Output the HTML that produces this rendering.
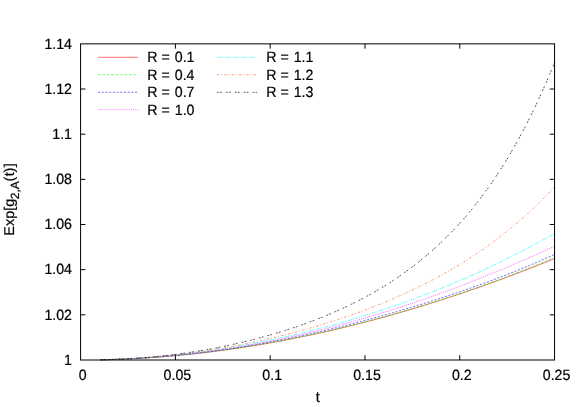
<!DOCTYPE html>
<html><head><meta charset="utf-8"><title>plot</title>
<style>
html,body{margin:0;padding:0;background:#fff;}
body{width:581px;height:407px;overflow:hidden;}
svg{display:block;will-change:transform;}
text{font-family:"Liberation Sans",sans-serif;font-size:14.2px;fill:#000;stroke:#000;stroke-width:0.2px;text-rendering:geometricPrecision;}
</style></head><body>
<svg width="581" height="407" viewBox="0 0 581 407">
<rect width="581" height="407" fill="#fff"/>
<g fill="none" stroke-width="0.6">
<path d="M100.51,359.80 L102.79,359.76 L105.07,359.71 L107.35,359.65 L109.63,359.59 L111.91,359.52 L114.20,359.45 L116.48,359.37 L118.76,359.29 L121.04,359.20 L123.32,359.11 L125.60,359.01 L127.89,358.91 L130.17,358.80 L132.45,358.68 L134.73,358.57 L137.01,358.44 L139.29,358.32 L141.58,358.18 L143.86,358.05 L146.14,357.90 L148.42,357.76 L150.70,357.60 L152.98,357.45 L155.26,357.28 L157.55,357.12 L159.83,356.95 L162.11,356.77 L164.39,356.59 L166.67,356.40 L168.95,356.21 L171.24,356.01 L173.52,355.81 L175.80,355.60 L178.08,355.39 L180.36,355.17 L182.64,354.95 L184.93,354.73 L187.21,354.50 L189.49,354.26 L191.77,354.02 L194.05,353.78 L196.33,353.53 L198.62,353.27 L200.90,353.01 L203.18,352.75 L205.46,352.48 L207.74,352.20 L210.02,351.92 L212.31,351.64 L214.59,351.35 L216.87,351.06 L219.15,350.76 L221.43,350.46 L223.71,350.15 L226.00,349.84 L228.28,349.52 L230.56,349.20 L232.84,348.87 L235.12,348.54 L237.40,348.21 L239.69,347.87 L241.97,347.52 L244.25,347.17 L246.53,346.82 L248.81,346.46 L251.09,346.09 L253.38,345.73 L255.66,345.35 L257.94,344.97 L260.22,344.59 L262.50,344.21 L264.78,343.81 L267.06,343.42 L269.35,343.02 L271.63,342.61 L273.91,342.20 L276.19,341.79 L278.47,341.37 L280.75,340.94 L283.04,340.51 L285.32,340.08 L287.60,339.64 L289.88,339.20 L292.16,338.75 L294.44,338.30 L296.73,337.85 L299.01,337.38 L301.29,336.92 L303.57,336.45 L305.85,335.98 L308.13,335.50 L310.42,335.01 L312.70,334.53 L314.98,334.03 L317.26,333.54 L319.54,333.04 L321.82,332.53 L324.11,332.02 L326.39,331.51 L328.67,330.99 L330.95,330.46 L333.23,329.94 L335.51,329.40 L337.80,328.87 L340.08,328.33 L342.36,327.78 L344.64,327.23 L346.92,326.68 L349.20,326.12 L351.49,325.55 L353.77,324.99 L356.05,324.41 L358.33,323.84 L360.61,323.26 L362.89,322.67 L365.17,322.08 L367.46,321.49 L369.74,320.89 L372.02,320.29 L374.30,319.68 L376.58,319.07 L378.86,318.46 L381.15,317.84 L383.43,317.21 L385.71,316.58 L387.99,315.95 L390.27,315.31 L392.55,314.67 L394.84,314.03 L397.12,313.38 L399.40,312.72 L401.68,312.06 L403.96,311.40 L406.24,310.74 L408.53,310.06 L410.81,309.39 L413.09,308.71 L415.37,308.03 L417.65,307.34 L419.93,306.65 L422.22,305.95 L424.50,305.25 L426.78,304.54 L429.06,303.84 L431.34,303.12 L433.62,302.41 L435.91,301.68 L438.19,300.96 L440.47,300.23 L442.75,299.50 L445.03,298.76 L447.31,298.02 L449.60,297.27 L451.88,296.52 L454.16,295.77 L456.44,295.01 L458.72,294.24 L461.00,293.48 L463.28,292.71 L465.57,291.93 L467.85,291.15 L470.13,290.37 L472.41,289.58 L474.69,288.79 L476.97,288.00 L479.26,287.20 L481.54,286.40 L483.82,285.59 L486.10,284.78 L488.38,283.96 L490.66,283.15 L492.95,282.32 L495.23,281.50 L497.51,280.66 L499.79,279.83 L502.07,278.99 L504.35,278.15 L506.64,277.30 L508.92,276.45 L511.20,275.60 L513.48,274.74 L515.76,273.88 L518.04,273.01 L520.33,272.14 L522.61,271.27 L524.89,270.39 L527.17,269.51 L529.45,268.62 L531.73,267.73 L534.02,266.84 L536.30,265.94 L538.58,265.04 L540.86,264.13 L543.14,263.23 L545.42,262.31 L547.71,261.40 L549.99,260.48 L552.27,259.55 L554.55,258.62" stroke="#ff0000"/>
<path d="M100.51,359.80 L102.79,359.75 L105.07,359.70 L107.35,359.64 L109.63,359.57 L111.91,359.51 L114.20,359.43 L116.48,359.35 L118.76,359.27 L121.04,359.18 L123.32,359.08 L125.60,358.98 L127.89,358.88 L130.17,358.77 L132.45,358.65 L134.73,358.53 L137.01,358.41 L139.29,358.28 L141.58,358.14 L143.86,358.00 L146.14,357.86 L148.42,357.71 L150.70,357.55 L152.98,357.39 L155.26,357.23 L157.55,357.06 L159.83,356.89 L162.11,356.71 L164.39,356.52 L166.67,356.33 L168.95,356.14 L171.24,355.94 L173.52,355.74 L175.80,355.53 L178.08,355.31 L180.36,355.10 L182.64,354.87 L184.93,354.64 L187.21,354.41 L189.49,354.17 L191.77,353.93 L194.05,353.68 L196.33,353.43 L198.62,353.17 L200.90,352.91 L203.18,352.65 L205.46,352.38 L207.74,352.10 L210.02,351.82 L212.31,351.53 L214.59,351.24 L216.87,350.95 L219.15,350.65 L221.43,350.35 L223.71,350.04 L226.00,349.73 L228.28,349.41 L230.56,349.08 L232.84,348.76 L235.12,348.43 L237.40,348.09 L239.69,347.75 L241.97,347.40 L244.25,347.05 L246.53,346.70 L248.81,346.34 L251.09,345.97 L253.38,345.60 L255.66,345.23 L257.94,344.85 L260.22,344.47 L262.50,344.08 L264.78,343.69 L267.06,343.29 L269.35,342.89 L271.63,342.49 L273.91,342.08 L276.19,341.66 L278.47,341.24 L280.75,340.82 L283.04,340.39 L285.32,339.96 L287.60,339.52 L289.88,339.08 L292.16,338.63 L294.44,338.18 L296.73,337.72 L299.01,337.26 L301.29,336.80 L303.57,336.33 L305.85,335.86 L308.13,335.38 L310.42,334.90 L312.70,334.41 L314.98,333.92 L317.26,333.42 L319.54,332.92 L321.82,332.42 L324.11,331.91 L326.39,331.39 L328.67,330.87 L330.95,330.35 L333.23,329.82 L335.51,329.29 L337.80,328.76 L340.08,328.22 L342.36,327.67 L344.64,327.12 L346.92,326.57 L349.20,326.01 L351.49,325.44 L353.77,324.88 L356.05,324.31 L358.33,323.73 L360.61,323.15 L362.89,322.56 L365.17,321.97 L367.46,321.38 L369.74,320.78 L372.02,320.18 L374.30,319.57 L376.58,318.96 L378.86,318.34 L381.15,317.72 L383.43,317.09 L385.71,316.46 L387.99,315.83 L390.27,315.19 L392.55,314.55 L394.84,313.90 L397.12,313.25 L399.40,312.59 L401.68,311.93 L403.96,311.26 L406.24,310.59 L408.53,309.92 L410.81,309.24 L413.09,308.56 L415.37,307.87 L417.65,307.18 L419.93,306.48 L422.22,305.78 L424.50,305.07 L426.78,304.36 L429.06,303.65 L431.34,302.93 L433.62,302.21 L435.91,301.48 L438.19,300.74 L440.47,300.01 L442.75,299.27 L445.03,298.52 L447.31,297.77 L449.60,297.01 L451.88,296.25 L454.16,295.49 L456.44,294.72 L458.72,293.95 L461.00,293.17 L463.28,292.39 L465.57,291.60 L467.85,290.81 L470.13,290.01 L472.41,289.21 L474.69,288.41 L476.97,287.60 L479.26,286.79 L481.54,285.97 L483.82,285.14 L486.10,284.32 L488.38,283.48 L490.66,282.65 L492.95,281.80 L495.23,280.96 L497.51,280.11 L499.79,279.25 L502.07,278.39 L504.35,277.53 L506.64,276.66 L508.92,275.78 L511.20,274.91 L513.48,274.02 L515.76,273.14 L518.04,272.24 L520.33,271.35 L522.61,270.44 L524.89,269.54 L527.17,268.63 L529.45,267.71 L531.73,266.79 L534.02,265.86 L536.30,264.93 L538.58,264.00 L540.86,263.06 L543.14,262.12 L545.42,261.17 L547.71,260.21 L549.99,259.26 L552.27,258.29 L554.55,257.33" stroke="#00ff00" stroke-dasharray="2.7 1.7"/>
<path d="M100.51,359.81 L102.79,359.76 L105.07,359.71 L107.35,359.65 L109.63,359.59 L111.91,359.52 L114.20,359.45 L116.48,359.37 L118.76,359.28 L121.04,359.19 L123.32,359.10 L125.60,359.00 L127.89,358.89 L130.17,358.78 L132.45,358.67 L134.73,358.55 L137.01,358.42 L139.29,358.29 L141.58,358.15 L143.86,358.01 L146.14,357.86 L148.42,357.70 L150.70,357.55 L152.98,357.38 L155.26,357.21 L157.55,357.04 L159.83,356.86 L162.11,356.67 L164.39,356.48 L166.67,356.28 L168.95,356.08 L171.24,355.87 L173.52,355.66 L175.80,355.44 L178.08,355.22 L180.36,354.99 L182.64,354.76 L184.93,354.52 L187.21,354.27 L189.49,354.02 L191.77,353.77 L194.05,353.51 L196.33,353.24 L198.62,352.97 L200.90,352.70 L203.18,352.41 L205.46,352.13 L207.74,351.84 L210.02,351.54 L212.31,351.24 L214.59,350.93 L216.87,350.62 L219.15,350.30 L221.43,349.98 L223.71,349.66 L226.00,349.32 L228.28,348.99 L230.56,348.64 L232.84,348.30 L235.12,347.95 L237.40,347.59 L239.69,347.23 L241.97,346.86 L244.25,346.49 L246.53,346.12 L248.81,345.73 L251.09,345.35 L253.38,344.96 L255.66,344.56 L257.94,344.16 L260.22,343.76 L262.50,343.35 L264.78,342.94 L267.06,342.52 L269.35,342.09 L271.63,341.67 L273.91,341.23 L276.19,340.80 L278.47,340.36 L280.75,339.91 L283.04,339.46 L285.32,339.01 L287.60,338.55 L289.88,338.08 L292.16,337.61 L294.44,337.14 L296.73,336.67 L299.01,336.18 L301.29,335.70 L303.57,335.21 L305.85,334.71 L308.13,334.22 L310.42,333.71 L312.70,333.21 L314.98,332.70 L317.26,332.18 L319.54,331.66 L321.82,331.14 L324.11,330.61 L326.39,330.08 L328.67,329.54 L330.95,329.00 L333.23,328.45 L335.51,327.91 L337.80,327.35 L340.08,326.80 L342.36,326.24 L344.64,325.67 L346.92,325.10 L349.20,324.53 L351.49,323.95 L353.77,323.37 L356.05,322.78 L358.33,322.19 L360.61,321.60 L362.89,321.00 L365.17,320.40 L367.46,319.80 L369.74,319.19 L372.02,318.57 L374.30,317.96 L376.58,317.34 L378.86,316.71 L381.15,316.08 L383.43,315.45 L385.71,314.81 L387.99,314.17 L390.27,313.52 L392.55,312.87 L394.84,312.22 L397.12,311.56 L399.40,310.90 L401.68,310.23 L403.96,309.56 L406.24,308.89 L408.53,308.21 L410.81,307.53 L413.09,306.84 L415.37,306.15 L417.65,305.46 L419.93,304.76 L422.22,304.06 L424.50,303.35 L426.78,302.64 L429.06,301.92 L431.34,301.20 L433.62,300.47 L435.91,299.74 L438.19,299.01 L440.47,298.27 L442.75,297.53 L445.03,296.78 L447.31,296.03 L449.60,295.27 L451.88,294.51 L454.16,293.75 L456.44,292.98 L458.72,292.20 L461.00,291.42 L463.28,290.63 L465.57,289.84 L467.85,289.05 L470.13,288.25 L472.41,287.44 L474.69,286.63 L476.97,285.82 L479.26,285.00 L481.54,284.17 L483.82,283.34 L486.10,282.50 L488.38,281.66 L490.66,280.81 L492.95,279.96 L495.23,279.10 L497.51,278.23 L499.79,277.36 L502.07,276.48 L504.35,275.60 L506.64,274.71 L508.92,273.81 L511.20,272.91 L513.48,272.00 L515.76,271.09 L518.04,270.16 L520.33,269.23 L522.61,268.30 L524.89,267.36 L527.17,266.41 L529.45,265.45 L531.73,264.49 L534.02,263.52 L536.30,262.54 L538.58,261.55 L540.86,260.56 L543.14,259.55 L545.42,258.55 L547.71,257.53 L549.99,256.50 L552.27,255.47 L554.55,254.42" stroke="#0000ff" stroke-dasharray="2 1.7"/>
<path d="M100.51,359.79 L102.79,359.74 L105.07,359.68 L107.35,359.62 L109.63,359.55 L111.91,359.48 L114.20,359.40 L116.48,359.31 L118.76,359.22 L121.04,359.13 L123.32,359.03 L125.60,358.92 L127.89,358.81 L130.17,358.69 L132.45,358.57 L134.73,358.44 L137.01,358.31 L139.29,358.17 L141.58,358.02 L143.86,357.87 L146.14,357.72 L148.42,357.55 L150.70,357.39 L152.98,357.21 L155.26,357.04 L157.55,356.85 L159.83,356.67 L162.11,356.47 L164.39,356.27 L166.67,356.07 L168.95,355.86 L171.24,355.64 L173.52,355.42 L175.80,355.19 L178.08,354.96 L180.36,354.72 L182.64,354.48 L184.93,354.23 L187.21,353.98 L189.49,353.72 L191.77,353.46 L194.05,353.19 L196.33,352.91 L198.62,352.63 L200.90,352.35 L203.18,352.06 L205.46,351.76 L207.74,351.46 L210.02,351.15 L212.31,350.84 L214.59,350.52 L216.87,350.20 L219.15,349.87 L221.43,349.53 L223.71,349.19 L226.00,348.85 L228.28,348.50 L230.56,348.15 L232.84,347.78 L235.12,347.42 L237.40,347.05 L239.69,346.67 L241.97,346.29 L244.25,345.90 L246.53,345.51 L248.81,345.11 L251.09,344.71 L253.38,344.30 L255.66,343.89 L257.94,343.47 L260.22,343.05 L262.50,342.62 L264.78,342.18 L267.06,341.74 L269.35,341.30 L271.63,340.85 L273.91,340.39 L276.19,339.93 L278.47,339.47 L280.75,339.00 L283.04,338.52 L285.32,338.04 L287.60,337.55 L289.88,337.06 L292.16,336.56 L294.44,336.06 L296.73,335.56 L299.01,335.04 L301.29,334.53 L303.57,334.00 L305.85,333.47 L308.13,332.94 L310.42,332.40 L312.70,331.86 L314.98,331.31 L317.26,330.76 L319.54,330.20 L321.82,329.64 L324.11,329.07 L326.39,328.49 L328.67,327.91 L330.95,327.33 L333.23,326.74 L335.51,326.14 L337.80,325.54 L340.08,324.94 L342.36,324.33 L344.64,323.72 L346.92,323.10 L349.20,322.47 L351.49,321.84 L353.77,321.21 L356.05,320.57 L358.33,319.92 L360.61,319.27 L362.89,318.61 L365.17,317.95 L367.46,317.29 L369.74,316.62 L372.02,315.94 L374.30,315.26 L376.58,314.58 L378.86,313.89 L381.15,313.19 L383.43,312.49 L385.71,311.79 L387.99,311.07 L390.27,310.36 L392.55,309.64 L394.84,308.91 L397.12,308.18 L399.40,307.45 L401.68,306.71 L403.96,305.96 L406.24,305.21 L408.53,304.46 L410.81,303.70 L413.09,302.93 L415.37,302.16 L417.65,301.39 L419.93,300.61 L422.22,299.83 L424.50,299.04 L426.78,298.24 L429.06,297.44 L431.34,296.64 L433.62,295.83 L435.91,295.02 L438.19,294.20 L440.47,293.38 L442.75,292.55 L445.03,291.71 L447.31,290.88 L449.60,290.03 L451.88,289.19 L454.16,288.33 L456.44,287.48 L458.72,286.62 L461.00,285.75 L463.28,284.88 L465.57,284.00 L467.85,283.12 L470.13,282.23 L472.41,281.34 L474.69,280.45 L476.97,279.55 L479.26,278.64 L481.54,277.74 L483.82,276.82 L486.10,275.90 L488.38,274.98 L490.66,274.05 L492.95,273.12 L495.23,272.18 L497.51,271.24 L499.79,270.29 L502.07,269.34 L504.35,268.38 L506.64,267.42 L508.92,266.46 L511.20,265.49 L513.48,264.51 L515.76,263.53 L518.04,262.55 L520.33,261.56 L522.61,260.57 L524.89,259.57 L527.17,258.57 L529.45,257.56 L531.73,256.55 L534.02,255.53 L536.30,254.51 L538.58,253.48 L540.86,252.45 L543.14,251.42 L545.42,250.38 L547.71,249.34 L549.99,248.29 L552.27,247.24 L554.55,246.18" stroke="#ff00ff" stroke-dasharray="1 1.05"/>
<path d="M100.51,359.77 L102.79,359.71 L105.07,359.65 L107.35,359.59 L109.63,359.51 L111.91,359.43 L114.20,359.35 L116.48,359.26 L118.76,359.16 L121.04,359.06 L123.32,358.95 L125.60,358.84 L127.89,358.72 L130.17,358.59 L132.45,358.46 L134.73,358.32 L137.01,358.18 L139.29,358.03 L141.58,357.87 L143.86,357.71 L146.14,357.55 L148.42,357.38 L150.70,357.20 L152.98,357.02 L155.26,356.83 L157.55,356.63 L159.83,356.43 L162.11,356.23 L164.39,356.02 L166.67,355.80 L168.95,355.58 L171.24,355.35 L173.52,355.11 L175.80,354.87 L178.08,354.63 L180.36,354.38 L182.64,354.12 L184.93,353.86 L187.21,353.59 L189.49,353.32 L191.77,353.04 L194.05,352.76 L196.33,352.47 L198.62,352.17 L200.90,351.87 L203.18,351.56 L205.46,351.25 L207.74,350.93 L210.02,350.61 L212.31,350.28 L214.59,349.95 L216.87,349.61 L219.15,349.26 L221.43,348.91 L223.71,348.56 L226.00,348.20 L228.28,347.83 L230.56,347.46 L232.84,347.08 L235.12,346.69 L237.40,346.30 L239.69,345.91 L241.97,345.51 L244.25,345.10 L246.53,344.69 L248.81,344.27 L251.09,343.85 L253.38,343.42 L255.66,342.99 L257.94,342.55 L260.22,342.10 L262.50,341.65 L264.78,341.20 L267.06,340.74 L269.35,340.27 L271.63,339.80 L273.91,339.32 L276.19,338.83 L278.47,338.34 L280.75,337.85 L283.04,337.35 L285.32,336.84 L287.60,336.33 L289.88,335.81 L292.16,335.29 L294.44,334.76 L296.73,334.23 L299.01,333.69 L301.29,333.14 L303.57,332.59 L305.85,332.03 L308.13,331.47 L310.42,330.90 L312.70,330.33 L314.98,329.75 L317.26,329.16 L319.54,328.57 L321.82,327.97 L324.11,327.37 L326.39,326.76 L328.67,326.15 L330.95,325.53 L333.23,324.90 L335.51,324.27 L337.80,323.63 L340.08,322.99 L342.36,322.34 L344.64,321.68 L346.92,321.02 L349.20,320.35 L351.49,319.68 L353.77,319.00 L356.05,318.32 L358.33,317.63 L360.61,316.93 L362.89,316.23 L365.17,315.52 L367.46,314.80 L369.74,314.08 L372.02,313.35 L374.30,312.62 L376.58,311.88 L378.86,311.14 L381.15,310.39 L383.43,309.63 L385.71,308.87 L387.99,308.10 L390.27,307.32 L392.55,306.54 L394.84,305.75 L397.12,304.95 L399.40,304.15 L401.68,303.35 L403.96,302.53 L406.24,301.71 L408.53,300.89 L410.81,300.05 L413.09,299.21 L415.37,298.37 L417.65,297.52 L419.93,296.66 L422.22,295.79 L424.50,294.92 L426.78,294.04 L429.06,293.16 L431.34,292.27 L433.62,291.37 L435.91,290.46 L438.19,289.55 L440.47,288.64 L442.75,287.71 L445.03,286.78 L447.31,285.84 L449.60,284.90 L451.88,283.94 L454.16,282.99 L456.44,282.02 L458.72,281.05 L461.00,280.07 L463.28,279.08 L465.57,278.09 L467.85,277.09 L470.13,276.08 L472.41,275.06 L474.69,274.04 L476.97,273.01 L479.26,271.98 L481.54,270.93 L483.82,269.88 L486.10,268.83 L488.38,267.76 L490.66,266.69 L492.95,265.61 L495.23,264.52 L497.51,263.42 L499.79,262.32 L502.07,261.21 L504.35,260.09 L506.64,258.97 L508.92,257.84 L511.20,256.70 L513.48,255.55 L515.76,254.39 L518.04,253.23 L520.33,252.06 L522.61,250.88 L524.89,249.69 L527.17,248.49 L529.45,247.29 L531.73,246.08 L534.02,244.86 L536.30,243.63 L538.58,242.40 L540.86,241.15 L543.14,239.90 L545.42,238.64 L547.71,237.37 L549.99,236.09 L552.27,234.81 L554.55,233.51" stroke="#00ffff" stroke-dasharray="4.9 1 0.8 1.4"/>
<path d="M100.51,359.78 L102.79,359.72 L105.07,359.66 L107.35,359.60 L109.63,359.52 L111.91,359.45 L114.20,359.36 L116.48,359.27 L118.76,359.17 L121.04,359.07 L123.32,358.96 L125.60,358.84 L127.89,358.72 L130.17,358.59 L132.45,358.46 L134.73,358.32 L137.01,358.17 L139.29,358.02 L141.58,357.86 L143.86,357.69 L146.14,357.52 L148.42,357.34 L150.70,357.15 L152.98,356.96 L155.26,356.76 L157.55,356.56 L159.83,356.35 L162.11,356.13 L164.39,355.91 L166.67,355.68 L168.95,355.44 L171.24,355.20 L173.52,354.95 L175.80,354.69 L178.08,354.43 L180.36,354.16 L182.64,353.89 L184.93,353.61 L187.21,353.32 L189.49,353.02 L191.77,352.72 L194.05,352.42 L196.33,352.10 L198.62,351.78 L200.90,351.45 L203.18,351.12 L205.46,350.78 L207.74,350.44 L210.02,350.08 L212.31,349.72 L214.59,349.36 L216.87,348.99 L219.15,348.61 L221.43,348.22 L223.71,347.83 L226.00,347.43 L228.28,347.03 L230.56,346.62 L232.84,346.20 L235.12,345.78 L237.40,345.35 L239.69,344.91 L241.97,344.47 L244.25,344.02 L246.53,343.56 L248.81,343.10 L251.09,342.63 L253.38,342.15 L255.66,341.67 L257.94,341.18 L260.22,340.68 L262.50,340.18 L264.78,339.67 L267.06,339.15 L269.35,338.62 L271.63,338.09 L273.91,337.56 L276.19,337.01 L278.47,336.46 L280.75,335.90 L283.04,335.34 L285.32,334.77 L287.60,334.19 L289.88,333.60 L292.16,333.01 L294.44,332.41 L296.73,331.80 L299.01,331.19 L301.29,330.57 L303.57,329.94 L305.85,329.30 L308.13,328.66 L310.42,328.00 L312.70,327.35 L314.98,326.68 L317.26,326.00 L319.54,325.32 L321.82,324.63 L324.11,323.94 L326.39,323.23 L328.67,322.52 L330.95,321.80 L333.23,321.07 L335.51,320.33 L337.80,319.58 L340.08,318.83 L342.36,318.07 L344.64,317.30 L346.92,316.52 L349.20,315.73 L351.49,314.93 L353.77,314.13 L356.05,313.31 L358.33,312.49 L360.61,311.65 L362.89,310.81 L365.17,309.96 L367.46,309.10 L369.74,308.23 L372.02,307.34 L374.30,306.45 L376.58,305.55 L378.86,304.64 L381.15,303.72 L383.43,302.79 L385.71,301.85 L387.99,300.89 L390.27,299.93 L392.55,298.95 L394.84,297.97 L397.12,296.97 L399.40,295.96 L401.68,294.94 L403.96,293.91 L406.24,292.86 L408.53,291.81 L410.81,290.74 L413.09,289.66 L415.37,288.56 L417.65,287.45 L419.93,286.33 L422.22,285.20 L424.50,284.05 L426.78,282.89 L429.06,281.72 L431.34,280.53 L433.62,279.32 L435.91,278.11 L438.19,276.87 L440.47,275.62 L442.75,274.36 L445.03,273.08 L447.31,271.79 L449.60,270.47 L451.88,269.15 L454.16,267.80 L456.44,266.44 L458.72,265.06 L461.00,263.67 L463.28,262.25 L465.57,260.82 L467.85,259.37 L470.13,257.90 L472.41,256.42 L474.69,254.91 L476.97,253.38 L479.26,251.83 L481.54,250.27 L483.82,248.68 L486.10,247.07 L488.38,245.44 L490.66,243.79 L492.95,242.12 L495.23,240.42 L497.51,238.70 L499.79,236.96 L502.07,235.19 L504.35,233.40 L506.64,231.59 L508.92,229.75 L511.20,227.89 L513.48,226.00 L515.76,224.08 L518.04,222.14 L520.33,220.17 L522.61,218.17 L524.89,216.15 L527.17,214.09 L529.45,212.01 L531.73,209.90 L534.02,207.76 L536.30,205.59 L538.58,203.38 L540.86,201.15 L543.14,198.88 L545.42,196.58 L547.71,194.25 L549.99,191.89 L552.27,189.49 L554.55,187.05" stroke="#ff4d00" stroke-dasharray="2.4 1.8 0.9 2.2"/>
<path d="M100.51,359.79 L102.79,359.73 L105.07,359.68 L107.35,359.61 L109.63,359.54 L111.91,359.46 L114.20,359.37 L116.48,359.28 L118.76,359.18 L121.04,359.07 L123.32,358.96 L125.60,358.84 L127.89,358.71 L130.17,358.58 L132.45,358.43 L134.73,358.28 L137.01,358.13 L139.29,357.96 L141.58,357.79 L143.86,357.61 L146.14,357.43 L148.42,357.23 L150.70,357.03 L152.98,356.82 L155.26,356.60 L157.55,356.38 L159.83,356.14 L162.11,355.90 L164.39,355.65 L166.67,355.40 L168.95,355.13 L171.24,354.86 L173.52,354.58 L175.80,354.29 L178.08,353.99 L180.36,353.69 L182.64,353.38 L184.93,353.06 L187.21,352.73 L189.49,352.39 L191.77,352.05 L194.05,351.69 L196.33,351.33 L198.62,350.96 L200.90,350.58 L203.18,350.20 L205.46,349.80 L207.74,349.40 L210.02,348.99 L212.31,348.57 L214.59,348.14 L216.87,347.70 L219.15,347.26 L221.43,346.80 L223.71,346.34 L226.00,345.87 L228.28,345.39 L230.56,344.90 L232.84,344.40 L235.12,343.90 L237.40,343.38 L239.69,342.86 L241.97,342.33 L244.25,341.78 L246.53,341.23 L248.81,340.67 L251.09,340.11 L253.38,339.53 L255.66,338.94 L257.94,338.34 L260.22,337.73 L262.50,337.12 L264.78,336.49 L267.06,335.86 L269.35,335.21 L271.63,334.56 L273.91,333.89 L276.19,333.21 L278.47,332.53 L280.75,331.83 L283.04,331.12 L285.32,330.41 L287.60,329.68 L289.88,328.94 L292.16,328.19 L294.44,327.43 L296.73,326.65 L299.01,325.87 L301.29,325.07 L303.57,324.26 L305.85,323.44 L308.13,322.61 L310.42,321.77 L312.70,320.91 L314.98,320.04 L317.26,319.15 L319.54,318.26 L321.82,317.35 L324.11,316.42 L326.39,315.49 L328.67,314.54 L330.95,313.57 L333.23,312.59 L335.51,311.59 L337.80,310.58 L340.08,309.55 L342.36,308.51 L344.64,307.45 L346.92,306.38 L349.20,305.29 L351.49,304.18 L353.77,303.05 L356.05,301.91 L358.33,300.75 L360.61,299.57 L362.89,298.37 L365.17,297.15 L367.46,295.91 L369.74,294.65 L372.02,293.37 L374.30,292.07 L376.58,290.75 L378.86,289.41 L381.15,288.05 L383.43,286.66 L385.71,285.25 L387.99,283.82 L390.27,282.36 L392.55,280.88 L394.84,279.37 L397.12,277.83 L399.40,276.28 L401.68,274.69 L403.96,273.07 L406.24,271.43 L408.53,269.76 L410.81,268.06 L413.09,266.33 L415.37,264.57 L417.65,262.78 L419.93,260.96 L422.22,259.10 L424.50,257.22 L426.78,255.29 L429.06,253.34 L431.34,251.34 L433.62,249.31 L435.91,247.25 L438.19,245.14 L440.47,243.00 L442.75,240.82 L445.03,238.60 L447.31,236.34 L449.60,234.03 L451.88,231.68 L454.16,229.29 L456.44,226.85 L458.72,224.37 L461.00,221.84 L463.28,219.27 L465.57,216.64 L467.85,213.96 L470.13,211.24 L472.41,208.46 L474.69,205.63 L476.97,202.74 L479.26,199.80 L481.54,196.80 L483.82,193.75 L486.10,190.63 L488.38,187.46 L490.66,184.22 L492.95,180.92 L495.23,177.56 L497.51,174.13 L499.79,170.63 L502.07,167.06 L504.35,163.43 L506.64,159.72 L508.92,155.95 L511.20,152.09 L513.48,148.16 L515.76,144.16 L518.04,140.07 L520.33,135.90 L522.61,131.66 L524.89,127.32 L527.17,122.90 L529.45,118.40 L531.73,113.80 L534.02,109.11 L536.30,104.33 L538.58,99.45 L540.86,94.48 L543.14,89.40 L545.42,84.23 L547.71,78.95 L549.99,73.56 L552.27,68.07 L554.55,62.46" stroke="#000000" stroke-dasharray="1.8 1.2 1.8 4.1" stroke-width="0.7"/>
</g>
<g fill="none" stroke-width="0.55">
<path d="M98.1,57.3 L138.2,57.3" stroke="#ff0000"/>
<path d="M98.1,74.7 L138.2,74.7" stroke="#00ff00" stroke-dasharray="2.7 1.7"/>
<path d="M98.1,92.3 L138.2,92.3" stroke="#0000ff" stroke-dasharray="2 1.7"/>
<path d="M98.1,109.7 L138.2,109.7" stroke="#ff00ff" stroke-dasharray="1 1.05"/>
<path d="M217.0,57.3 L257.1,57.3" stroke="#00ffff" stroke-dasharray="4.9 1 0.8 1.4"/>
<path d="M217.0,74.7 L257.1,74.7" stroke="#ff4d00" stroke-dasharray="2.4 1.8 0.9 2.2"/>
<path d="M217.0,92.3 L257.1,92.3" stroke="#000000" stroke-dasharray="1.8 1.2 1.8 4.1" stroke-width="0.65"/>
</g>
<text transform="translate(147.30,62.10) scale(1,1.05)" dx="0 0 0 0 1">R = 0.1</text>
<text transform="translate(147.30,79.50) scale(1,1.05)" dx="0 0 0 0 1">R = 0.4</text>
<text transform="translate(147.30,97.10) scale(1,1.05)" dx="0 0 0 0 1">R = 0.7</text>
<text transform="translate(147.30,114.50) scale(1,1.05)" dx="0 0 0 0 1">R = 1.0</text>
<text transform="translate(266.20,62.10) scale(1,1.05)" dx="0 0 0 0 1">R = 1.1</text>
<text transform="translate(266.20,79.50) scale(1,1.05)" dx="0 0 0 0 1">R = 1.2</text>
<text transform="translate(266.20,97.10) scale(1,1.05)" dx="0 0 0 0 1">R = 1.3</text>
<g fill="none" stroke="#000" stroke-width="1">
<rect x="80.6" y="43.85" width="473.94999999999993" height="316.15"/>
<path d="M175.39,360.0 v-4.8 M175.39,43.85 v4.8 M270.18,360.0 v-4.8 M270.18,43.85 v4.8 M364.97,360.0 v-4.8 M364.97,43.85 v4.8 M459.76,360.0 v-4.8 M459.76,43.85 v4.8 M80.6,314.84 h4.8 M554.55,314.84 h-4.8 M80.6,269.67 h4.8 M554.55,269.67 h-4.8 M80.6,224.51 h4.8 M554.55,224.51 h-4.8 M80.6,179.34 h4.8 M554.55,179.34 h-4.8 M80.6,134.18 h4.8 M554.55,134.18 h-4.8 M80.6,89.01 h4.8 M554.55,89.01 h-4.8"/>
</g>
<text transform="translate(72.00,364.80) scale(1,1.05)" text-anchor="end">1</text>
<text transform="translate(72.00,319.64) scale(1,1.05)" text-anchor="end">1.02</text>
<text transform="translate(72.00,274.47) scale(1,1.05)" text-anchor="end">1.04</text>
<text transform="translate(72.00,229.31) scale(1,1.05)" text-anchor="end">1.06</text>
<text transform="translate(72.00,184.14) scale(1,1.05)" text-anchor="end">1.08</text>
<text transform="translate(72.00,138.98) scale(1,1.05)" text-anchor="end">1.1</text>
<text transform="translate(72.00,93.81) scale(1,1.05)" text-anchor="end">1.12</text>
<text transform="translate(72.00,48.65) scale(1,1.05)" text-anchor="end">1.14</text>
<text transform="translate(82.60,379.70) scale(1,1.05)" text-anchor="middle">0</text>
<text transform="translate(177.39,379.70) scale(1,1.05)" text-anchor="middle">0.05</text>
<text transform="translate(272.18,379.70) scale(1,1.05)" text-anchor="middle">0.1</text>
<text transform="translate(366.97,379.70) scale(1,1.05)" text-anchor="middle">0.15</text>
<text transform="translate(461.76,379.70) scale(1,1.05)" text-anchor="middle">0.2</text>
<text transform="translate(556.55,379.70) scale(1,1.05)" text-anchor="middle">0.25</text>
<text transform="translate(317.70,401.90) scale(1,1.05)" text-anchor="middle">t</text>
<g transform="translate(13.9,236.4) rotate(-90) scale(1.02,1)"><text x="0.74" y="0">Exp[g</text><text x="36.4" y="4.9" style="font-size:11.9px">2,A</text><text x="53.8 59.0 62.75 67.75" y="0">(t)]</text></g>
</svg></body></html>
